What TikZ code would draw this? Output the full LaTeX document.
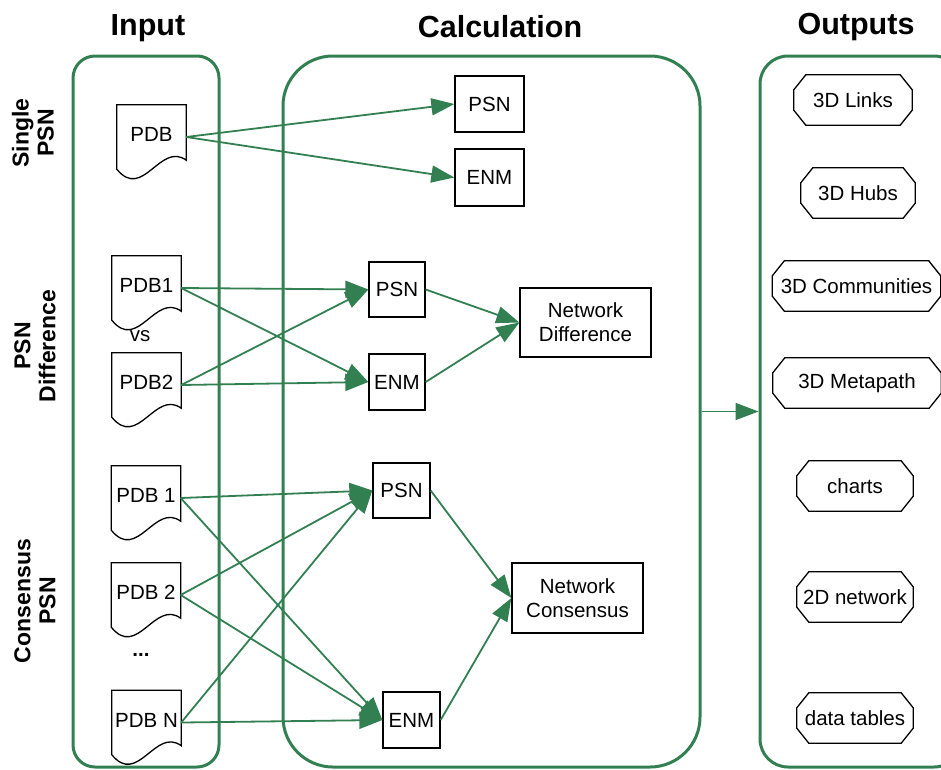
\documentclass[tikz,border=0pt]{standalone}
\usepackage{fontspec}
\setmainfont{Liberation Sans}
\usetikzlibrary{arrows.meta,calc}
\definecolor{grn}{RGB}{50,128,82}
\tikzset{
 container/.style={draw=grn, line width=3pt, rounded corners=#1, inner sep=0pt},
 box/.style={draw=black, line width=1.3pt, fill=white, font=\fontsize{20.5}{24}\selectfont, align=center, inner sep=0pt},
 docnode/.style={minimum width=69pt, minimum height=64pt, inner sep=0pt, font=\fontsize{20.5}{24}\selectfont},
 docline/.style={draw=black, line width=1.3pt, line join=miter},
 octnode/.style={minimum height=50pt, inner sep=0pt, font=\fontsize{20.5}{24}\selectfont},
 flow/.style={draw=grn, line width=1.8pt, -{Triangle[length=23pt,width=17pt]}},
 header/.style={font=\fontsize{30.5}{34}\selectfont\bfseries},
 side/.style={font=\fontsize{23}{25}\selectfont\bfseries, rotate=90, align=center},
 plain/.style={font=\fontsize{20.5}{24}\selectfont},
}
\newcommand\docoutline[1]{\draw[docline] (#1.south west) -- (#1.north west) -- (#1.north east) -- ($(#1.south east)+(0,-9)$) .. controls ($(#1.south east)+(-26,-28)$) and ($(#1.south west)+(26,32)$) .. (#1.south west) -- cycle;}
\newcommand\octo[1]{\draw[docline] ($(#1.north west)+(12,0)$) -- ($(#1.north east)+(-12,0)$) -- ($(#1.north east)+(0,15)$) -- ($(#1.south east)+(0,-15)$) -- ($(#1.south east)+(-12,0)$) -- ($(#1.south west)+(12,0)$) -- ($(#1.south west)+(0,-15)$) -- ($(#1.north west)+(0,15)$) -- cycle;}
\newcommand\up[1]{\raisebox{5pt}{#1}}
\begin{document}
\begin{tikzpicture}[x=1pt,y=-1pt]
\useasboundingbox (0,0) rectangle (941,769);
\clip (0,0) rectangle (941,769);
% headers
\node[header] (hin) at (148,28) {Input};
\node[header] (hcalc) at (500,27) {Calculation};
\node[header] (hout) at (856,27) {Outputs};
% side labels
\node[side] (lsingle) at (33,133) {Single\\PSN};
\node[side] (ldiff) at (35,346) {PSN\\Difference};
\node[side] (lcons) at (35,601) {Consensus\\PSN};
% containers
\node[container=22pt, minimum width=146pt, minimum height=711pt] (inbox) at (146,411.5) {};
\node[container=50pt, minimum width=417pt, minimum height=711pt] (calcbox) at (491.5,411.5) {};
\node[container=28pt, minimum width=202pt, minimum height=711pt] (outbox) at (861,411.5) {};
% input documents
\node[docnode] (pdb) at (151.5,137) {\up{PDB}};
\node[docnode] (pdba) at (146.5,288) {\up{PDB1}};
\node[plain] (vs) at (140,336) {vs};
\node[docnode] (pdbb) at (146.5,385) {\up{PDB2}};
\node[docnode] (pc1) at (146,498) {\up{PDB 1}};
\node[docnode] (pc2) at (146,595) {\up{PDB 2}};
\node[plain] (dots) at (141,655) {\textbf{...}};
\node[docnode] (pcn) at (146.5,722.5) {\up{PDB N}};
\docoutline{pdb}
\docoutline{pdba}
\docoutline{pdbb}
\docoutline{pc1}
\docoutline{pc2}
\docoutline{pcn}
% calculation boxes
\node[box, minimum width=69pt, minimum height=56pt] (spsn) at (489.5,104) {PSN};
\node[box, minimum width=69pt, minimum height=57pt] (senm) at (489.5,177.5) {ENM};
\node[box, minimum width=56pt, minimum height=55pt] (dpsn) at (397,289.5) {PSN};
\node[box, minimum width=56pt, minimum height=56pt] (denm) at (397,382) {ENM};
\node[box, minimum width=131pt, minimum height=69pt] (ndiff) at (585.5,322.5) {Network\\Difference};
\node[box, minimum width=57pt, minimum height=55pt] (cpsn) at (401.5,490.5) {PSN};
\node[box, minimum width=131pt, minimum height=70pt] (ncons) at (577.5,598) {Network\\Consensus};
\node[box, minimum width=57pt, minimum height=56pt] (cenm) at (411.5,720) {ENM};
% outputs
\node[octnode, minimum width=118pt] (o1) at (853,100) {3D Links};
\node[octnode, minimum width=114pt] (o2) at (858,193) {3D Hubs};
\node[octnode, minimum width=168pt] (o3) at (856.5,286) {3D Communities};
\node[octnode, minimum width=168pt] (o4) at (857,383) {3D Metapath};
\node[octnode, minimum width=116pt] (o5) at (855,486) {charts};
\node[octnode, minimum width=116pt] (o6) at (855,597) {2D network};
\node[octnode, minimum width=116pt] (o7) at (855,718) {data tables};
\octo{o1}\octo{o2}\octo{o3}\octo{o4}\octo{o5}\octo{o6}\octo{o7}
% connectors
\draw[flow] (pdb.east) -- (spsn.west);
\draw[flow] (pdb.east) -- (senm.west);
\draw[flow] (pdba.east) -- (dpsn.west);
\draw[flow] (pdba.east) -- (denm.west);
\draw[flow] (pdbb.east) -- (dpsn.west);
\draw[flow] (pdbb.east) -- (denm.west);
\draw[flow] (dpsn.east) -- (ndiff.west);
\draw[flow] (denm.east) -- (ndiff.west);
\draw[flow] (pc1.east) -- (cpsn.west);
\draw[flow] (pc1.east) -- (cenm.west);
\draw[flow] (pc2.east) -- (cpsn.west);
\draw[flow] (pc2.east) -- (cenm.west);
\draw[flow] (pcn.east) -- (cpsn.west);
\draw[flow] (pcn.east) -- (cenm.west);
\draw[flow] (cpsn.east) -- (ncons.west);
\draw[flow] (cenm.east) -- (ncons.west);
\draw[flow] (calcbox.east) -- (outbox.west);
\end{tikzpicture}
\end{document}
